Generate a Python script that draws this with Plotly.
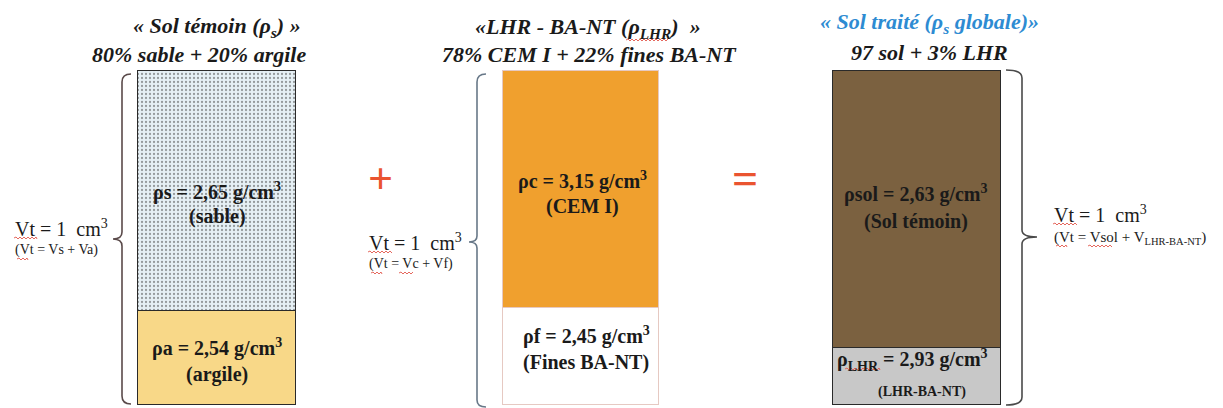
import plotly.graph_objects as go

# ---- data (volume fractions as drawn, densities as labelled) ----
mixtures = ["Sol témoin", "LHR - BA-NT", "Sol traité"]
bottom_parts = ["argile", "Fines BA-NT", "LHR-BA-NT"]
top_parts = ["sable", "CEM I", "Sol témoin"]
bottom_vol = [0.28, 0.29, 0.17]
top_vol = [0.72, 0.71, 0.83]
bottom_rho = ["2,54", "2,45", "2,93"]
top_rho = ["2,65", "3,15", "2,63"]

# ---- layout constants ----
W, H = 1223, 408
bar_x = [217, 581, 917]
bar_w = [158, 156, 168]
bottom_colors = ["#f8d888", "#ffffff", "#c8c8c8"]
top_colors = ["#e6f0f5", "#f0a02e", "#7b6140"]
line_colors = ["#2a2a2a", "#e6c9c2", "#2a2a2a"]
SERIF = "Liberation Serif, Times New Roman, DejaVu Serif, serif"


def yp(p):
    return 1 - p / H


fig = go.Figure()
fig.add_trace(go.Bar(
    x=bar_x, y=bottom_vol, width=bar_w, name="bas",
    marker=dict(color=bottom_colors, line=dict(color=line_colors, width=1.5)),
    hoverinfo="skip", showlegend=False))
fig.add_trace(go.Bar(
    x=bar_x, y=top_vol, width=bar_w, name="haut",
    marker=dict(color=top_colors, line=dict(color=line_colors, width=1.5),
                pattern=dict(shape=[".", "", ""], fgcolor="#9ccbe4", size=4, solidity=0.25)),
    hoverinfo="skip", showlegend=False))

ann = []


def txt(x, y, text, size, color="#1a1a1a", bold=False, italic=False, xanchor="center"):
    if italic:
        text = "<i>" + text + "</i>"
    if bold:
        text = "<b>" + text + "</b>"
    ann.append(dict(x=x, y=yp(y), xref="x", yref="paper", text=text, showarrow=False,
                    xanchor=xanchor, yanchor="middle",
                    font=dict(family=SERIF, size=size, color=color)))


# titles
TS = 22
txt(217, 27, "« Sol témoin (ρ<sub>s</sub>) »", TS, bold=True, italic=True)
txt(199, 55, "80% sable + 20% argile", TS, bold=True, italic=True)
txt(588, 28, "«LHR - BA-NT (ρ<sub>LHR</sub>)  »", TS, bold=True, italic=True)
txt(589, 55, "78% CEM I + 22% fines BA-NT", TS, bold=True, italic=True)
txt(929, 23, "« Sol traité (ρ<sub>s</sub> globale)»", TS, color="#2d8bd2", bold=True, italic=True)
txt(929, 52, "97 sol + 3% LHR", TS, bold=True, italic=True)

# box labels
BS = 20
txt(217, 191, "ρs = " + top_rho[0] + " g/cm<sup>3</sup>", BS, bold=True)
txt(217, 216, "(" + top_parts[0] + ")", BS, bold=True)
txt(217, 347, "ρa = " + bottom_rho[0] + " g/cm<sup>3</sup>", BS, bold=True)
txt(217, 374, "(" + bottom_parts[0] + ")", BS, bold=True)
txt(582, 180, "ρc = " + top_rho[1] + " g/cm<sup>3</sup>", BS, bold=True)
txt(582, 206, "(" + top_parts[1] + ")", BS, bold=True)
txt(586, 335, "ρf = " + bottom_rho[1] + " g/cm<sup>3</sup>", BS, bold=True)
txt(586, 362, "(" + bottom_parts[1] + ")", BS, bold=True)
txt(916, 193, "ρsol = " + top_rho[2] + " g/cm<sup>3</sup>", BS, bold=True)
txt(916, 222, "(" + top_parts[2] + ")", BS, bold=True)
txt(912, 360, "ρ<sub>LHR</sub> = " + bottom_rho[2] + " g/cm<sup>3</sup>", BS, bold=True)
txt(922, 392, "(" + bottom_parts[2] + ")", 14, bold=True)

# volume labels
txt(13, 228, "Vt = 1  cm<sup>3</sup>", 20, xanchor="left")
txt(13, 250, "(Vt = Vs + Va)", 14, xanchor="left")
txt(367, 242, "Vt = 1  cm<sup>3</sup>", 20, xanchor="left")
txt(367, 264, "(Vt = Vc + Vf)", 14, xanchor="left")
txt(1052, 214, "Vt = 1  cm<sup>3</sup>", 20, xanchor="left")
txt(1052, 238, "(Vt = Vsol + V<sub>LHR-BA-NT</sub>)", 15, xanchor="left")

# operators
txt(380, 178, "+", 44, color="#ea5430", bold=True)
txt(745, 178, "=", 46, color="#ea5430", bold=True)

shapes = []


def path(d, color, width=1.6):
    shapes.append(dict(type="path", path=d, xref="x", yref="y2",
                       line=dict(color=color, width=width), layer="above"))


path("M 131 74 Q 122 74 122 82 L 122 232 Q 122 239 113 239 Q 122 239 122 246 L 122 396 Q 122 404 131 404", "#5a4a4a")
path("M 486 74 Q 477 74 477 82 L 477 236 Q 477 242 469 242 Q 477 242 477 248 L 477 400 Q 477 407 486 407", "#687888")
path("M 1006 70 Q 1022 70 1022 78 L 1022 230 Q 1022 237 1037 237 Q 1022 237 1022 244 L 1022 397 Q 1022 405 1006 405", "#4a4a4a")


# spell-check style red wavy underlines
def squiggle(x0, x1, y):
    d = "M %g %g" % (x0, y)
    x, up = x0, True
    while x < x1:
        x = min(x + 2, x1)
        d += " L %g %g" % (x, y - 1 if up else y + 1)
        up = not up
    path(d, "#e2574c", 0.9)


squiggle(14, 37, 238)
squiggle(17, 28, 259)
squiggle(368, 392, 252)
squiggle(371, 382, 273)
squiggle(399, 413, 273)
squiggle(1053, 1077, 224)
squiggle(1056, 1067, 246)
squiggle(1088, 1112, 246)
squiggle(845, 880, 369)
squiggle(626, 668, 40)

fig.update_layout(
    width=W, height=H, margin=dict(l=0, r=0, t=0, b=0),
    paper_bgcolor="white", plot_bgcolor="white",
    barmode="stack", bargap=0,
    font=dict(family=SERIF),
    xaxis=dict(range=[0, W], visible=False, fixedrange=True),
    yaxis=dict(range=[-3 / 334, 405 / 334], visible=False, fixedrange=True),
    yaxis2=dict(range=[H, 0], overlaying="y", showticklabels=False, showgrid=False,
                zeroline=False, showline=False, fixedrange=True),
    annotations=ann, shapes=shapes,
)
fig.write_html("out.html", config={"displayModeBar": False},
               post_script="document.body.style.margin='0';")
